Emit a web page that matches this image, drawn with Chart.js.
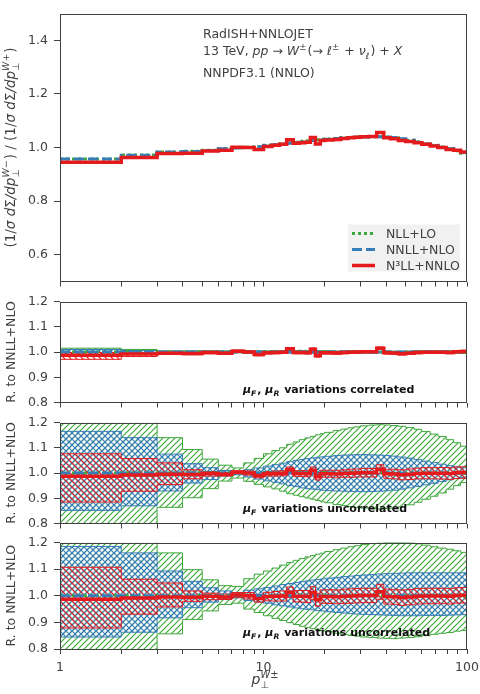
<!DOCTYPE html>
<html>
<head>
<meta charset="utf-8">
<script src="https://cdn.jsdelivr.net/npm/chart.js@4.4.0/dist/chart.umd.min.js"></script>
<style>
  body { margin: 0; background: #fff; }
  #wrap { position: relative; width: 480px; height: 694px; }
  canvas { position: absolute; left: 0; }
</style>
</head>
<body>
<div id="wrap">
  <canvas id="c1" width="480" height="295" style="top:0px"></canvas>
  <canvas id="c2" width="480" height="128" style="top:288px"></canvas>
  <canvas id="c3" width="480" height="128" style="top:409px"></canvas>
  <canvas id="c4" width="480" height="165" style="top:529px"></canvas>
</div>
<script>
// pT bin edges (GeV)
const edges = [1,2,3,4,5,6,7,8,9,10,11,12,13,14,15,16,17,18,19,20,22,24,26,28,30,33,36,39,42,46,50,55,60,66,72,79,86,93,100];

// top panel: W- / W+ normalised ratio
const nll  = [0.957,0.972,0.983,0.986,0.990,0.996,0.999,1.001,1.004,1.008, 1.011,1.014,1.018,1.020,1.023,1.025,1.027,1.029,1.031,1.032, 1.034,1.036,1.038,1.039,1.040,1.040,1.040,1.039,1.036,1.032, 1.027,1.021,1.014,1.008,1.002,0.996,0.988,0.979];
const nnll = [0.957,0.971,0.983,0.985,0.989,0.995,0.998,1.000,1.003,1.007, 1.010,1.013,1.016,1.018,1.020,1.023,1.026,1.028,1.029,1.031, 1.034,1.036,1.037,1.038,1.039,1.040,1.040,1.039,1.037,1.033, 1.027,1.020,1.013,1.007,1.001,0.995,0.989,0.981];
const n3ll = [0.945,0.963,0.978,0.979,0.987,0.990,1.001,1.000,0.993,1.004, 1.008,1.012,1.029,1.016,1.018,1.020,1.037,1.013,1.026,1.028, 1.030,1.034,1.036,1.038,1.040,1.041,1.056,1.036,1.033,1.026, 1.022,1.018,1.012,1.006,1.000,0.993,0.990,0.983];

// central values relative to NNLL+NLO
const ratioNll  = [1.000,1.001,1.000,1.001,1.001,1.001,1.001,1.001,1.001,1.001, 1.001,1.001,1.002,1.002,1.003,1.002,1.001,1.001,1.002,1.001, 1.000,1.000,1.001,1.001,1.001,1.000,1.000,1.000,0.999,0.999, 1.000,1.001,1.001,1.001,1.001,1.001,0.999,0.998];
const ratioNnll = [1,1,1,1,1,1,1,1,1,1, 1,1,1,1,1,1,1,1,1,1, 1,1,1,1,1,1,1,1,1,1, 1,1,1,1,1,1,1,1];
const ratioN3ll = [0.987,0.992,0.995,0.994,0.998,0.995,1.003,1.000,0.990,0.997, 0.998,0.999,1.013,0.998,0.998,0.997,1.011,0.985,0.997,0.997, 0.996,0.998,0.999,1.000,1.001,1.001,1.015,0.997,0.996,0.993, 0.995,0.998,0.999,0.999,0.999,0.998,1.001,1.002];

// muF, muR correlated bands
const nllCorrLo  = [0.990,0.994,0.997,0.998,0.998,0.998,0.998,0.998,0.998,0.998, 0.998,0.998,0.999,0.999,1.000,0.999,0.998,0.998,0.999,0.998, 0.997,0.997,0.998,0.998,0.998,0.997,0.997,0.997,0.996,0.996, 0.997,0.998,0.998,0.998,0.998,0.998,0.996,0.995];
const nllCorrHi  = [1.015,1.010,1.004,1.004,1.004,1.004,1.004,1.004,1.004,1.004, 1.004,1.004,1.005,1.005,1.006,1.005,1.004,1.004,1.005,1.004, 1.003,1.003,1.004,1.004,1.004,1.003,1.003,1.003,1.002,1.002, 1.003,1.004,1.004,1.004,1.004,1.004,1.002,1.001];
const nnllCorrLo = [0.988,0.994,0.997,0.997,0.997,0.997,0.997,0.997,0.997,0.997, 0.997,0.997,0.996,0.996,0.996,0.996,0.996,0.996,0.996,0.996, 0.996,0.996,0.996,0.996,0.996,0.996,0.996,0.996,0.996,0.996, 0.996,0.996,0.996,0.997,0.997,0.997,0.997,0.997];
const nnllCorrHi = [1.010,1.006,1.003,1.003,1.003,1.003,1.003,1.003,1.003,1.003, 1.003,1.003,1.003,1.003,1.003,1.003,1.003,1.003,1.003,1.003, 1.003,1.003,1.003,1.003,1.003,1.003,1.003,1.003,1.003,1.003, 1.003,1.003,1.003,1.003,1.003,1.003,1.003,1.003];
const n3llCorrLo = [0.971,0.982,0.990,0.989,0.993,0.990,0.998,0.995,0.985,0.992, 0.993,0.994,1.008,0.993,0.993,0.992,1.006,0.980,0.992,0.992, 0.991,0.993,0.994,0.995,0.996,0.996,1.010,0.992,0.991,0.988, 0.990,0.993,0.994,0.994,0.994,0.993,0.996,0.997];
const n3llCorrHi = [0.998,0.997,1.000,0.999,1.003,1.000,1.008,1.005,0.995,1.002, 1.003,1.004,1.018,1.003,1.003,1.002,1.016,0.990,1.002,1.002, 1.001,1.003,1.004,1.005,1.006,1.006,1.020,1.002,1.001,0.998, 1.000,1.003,1.004,1.004,1.004,1.003,1.006,1.007];

// muF uncorrelated bands
const nllFLo  = [0.75,0.75,0.864,0.902,0.938,0.968,0.980,0.967,0.955,0.945, 0.937,0.928,0.918,0.912,0.906,0.901,0.896,0.891,0.886,0.882, 0.875,0.871,0.867,0.864,0.861,0.858,0.858,0.859,0.861,0.866, 0.874,0.884,0.896,0.908,0.921,0.936,0.950,0.962];
const nllFHi  = [1.25,1.25,1.140,1.093,1.055,1.031,1.020,1.040,1.058,1.076, 1.089,1.100,1.114,1.123,1.132,1.139,1.145,1.151,1.156,1.161, 1.168,1.174,1.179,1.183,1.187,1.190,1.191,1.190,1.188,1.185, 1.180,1.173,1.164,1.154,1.145,1.132,1.120,1.106];
const nnllFLo = [0.852,0.870,0.929,0.960,0.974,0.988,0.993,0.984,0.976,0.969, 0.963,0.957,0.950,0.946,0.941,0.938,0.936,0.934,0.932,0.930, 0.929,0.928,0.927,0.926,0.926,0.927,0.928,0.930,0.932,0.936, 0.941,0.947,0.953,0.959,0.966,0.973,0.978,0.982];
const nnllFHi = [1.165,1.140,1.075,1.037,1.021,1.010,1.005,1.013,1.020,1.027, 1.033,1.039,1.045,1.050,1.054,1.057,1.060,1.062,1.064,1.066, 1.069,1.071,1.072,1.073,1.073,1.072,1.071,1.069,1.067,1.063, 1.059,1.053,1.047,1.041,1.035,1.029,1.024,1.020];
const n3llFLo = [0.885,0.928,0.954,0.977,0.988,0.988,0.997,0.992,0.981,0.988, 0.988,0.989,1.002,0.987,0.986,0.985,0.998,0.972,0.983,0.983, 0.981,0.983,0.983,0.984,0.984,0.984,0.997,0.979,0.977,0.973, 0.974,0.977,0.977,0.977,0.976,0.975,0.978,0.979];
const n3llFHi = [1.076,1.057,1.040,1.013,1.006,1.002,1.009,1.008,0.999,1.006, 1.008,1.009,1.024,1.009,1.010,1.009,1.024,0.998,1.011,1.011, 1.011,1.013,1.015,1.016,1.018,1.018,1.033,1.015,1.015,1.013, 1.016,1.019,1.021,1.021,1.022,1.021,1.024,1.025];

// muF, muR uncorrelated bands
const nllFRLo  = [0.75,0.75,0.857,0.911,0.943,0.967,0.972,0.950,0.937,0.925, 0.915,0.907,0.899,0.892,0.885,0.880,0.876,0.873,0.869,0.865, 0.859,0.855,0.851,0.848,0.845,0.843,0.841,0.840,0.839,0.841, 0.843,0.846,0.850,0.855,0.859,0.862,0.867,0.870];
const nllFRHi  = [1.25,1.25,1.161,1.098,1.060,1.038,1.035,1.064,1.081,1.093, 1.104,1.115,1.125,1.133,1.140,1.146,1.151,1.156,1.160,1.166, 1.173,1.179,1.184,1.188,1.192,1.196,1.198,1.200,1.200,1.200, 1.199,1.195,1.190,1.184,1.179,1.175,1.169,1.163];
const nnllFRLo = [0.845,0.863,0.917,0.955,0.976,0.988,0.992,0.982,0.977,0.972, 0.966,0.962,0.958,0.954,0.951,0.949,0.947,0.944,0.943,0.940, 0.937,0.935,0.933,0.931,0.930,0.929,0.928,0.927,0.926,0.925, 0.925,0.925,0.926,0.926,0.926,0.927,0.928,0.929];
const nnllFRHi = [1.185,1.161,1.093,1.054,1.030,1.018,1.010,1.021,1.026,1.031, 1.037,1.042,1.046,1.050,1.053,1.056,1.059,1.061,1.063,1.066, 1.069,1.072,1.074,1.076,1.078,1.080,1.082,1.083,1.084,1.085, 1.086,1.086,1.086,1.086,1.086,1.086,1.086,1.086];
const n3llFRLo = [0.879,0.931,0.958,0.979,0.985,0.986,0.994,0.988,0.976,0.981, 0.980,0.980,0.993,0.977,0.976,0.974,0.987,0.961,0.972,0.971, 0.970,0.971,0.972,0.973,0.974,0.974,0.987,0.969,0.968,0.964, 0.966,0.969,0.970,0.970,0.970,0.969,0.972,0.973];
const n3llFRHi = [1.107,1.062,1.048,1.018,1.010,1.006,1.012,1.012,1.004,1.013, 1.016,1.018,1.033,1.019,1.020,1.020,1.035,1.009,1.022,1.023, 1.022,1.025,1.026,1.027,1.028,1.028,1.043,1.025,1.024,1.022, 1.024,1.027,1.028,1.028,1.028,1.027,1.030,1.031];

// axes
const xTicks = [1,2,3,4,5,6,7,8,9,10,20,30,40,50,60,70,80,90,100];
const xTickLabels = [1, 10, 100];
const yTicksTop = [0.6, 0.8, 1.0, 1.2, 1.4];
const yTicksRatio = [0.8, 0.9, 1.0, 1.1, 1.2];

const FONT = '"DejaVu Sans", sans-serif';
const INK = '#404040';
const GREEN = '#3fa83c', BLUE = '#377eb8', RED = '#e41a1c';

Chart.defaults.font.family = FONT;
Chart.defaults.font.size = 12.5;
Chart.defaults.color = INK;

// histogram points for a stepped line (value holds from its left edge)
function hist(vals) {
  const pts = vals.map((v, i) => ({ x: edges[i], y: v }));
  pts.push({ x: edges[edges.length - 1], y: vals[vals.length - 1] });
  return pts;
}

function hatch(color, kind) {
  const n = 6, c = document.createElement('canvas');
  c.width = c.height = n;
  const g = c.getContext('2d');
  g.strokeStyle = color;
  g.lineWidth = 1.2;
  const seg = (x1, y1, x2, y2) => { g.beginPath(); g.moveTo(x1, y1); g.lineTo(x2, y2); g.stroke(); };
  if (kind.includes('/')) { seg(-1, n + 1, n + 1, -1); seg(-1, 1, 1, -1); seg(n - 1, n + 1, n + 1, n - 1); }
  if (kind.includes('\\')) { seg(-1, -1, n + 1, n + 1); seg(-1, n - 1, 1, n + 1); seg(n - 1, -1, n + 1, 1); }
  return g.createPattern(c, 'repeat');
}

const greenHatch = hatch(GREEN, '/');
const blueHatch = hatch(BLUE, '/\\');
const redHatch = hatch(RED, '\\');

function line(label, vals, color, dash, width, order) {
  return { label, data: hist(vals), borderColor: color, borderWidth: width, borderDash: dash,
           stepped: 'before', pointRadius: 0, fill: false, order };
}
function band(lo, hi, color, pattern, order, loIndex) {
  return [
    { data: hist(lo), borderColor: color, borderWidth: 1, stepped: 'before', pointRadius: 0, fill: false, order },
    { data: hist(hi), borderColor: color, borderWidth: 1, stepped: 'before', pointRadius: 0,
      fill: loIndex, backgroundColor: pattern, order }
  ];
}

function centralLines() {
  return [
    line('N³LL+NNLO', ratioN3ll, RED, [], 3.5, 0),
    line('NNLL+NLO', ratioNnll, BLUE, [10, 4], 3, 1),
    line('NLL+LO', ratioNll, GREEN, [3, 3], 3, 2)
  ];
}
function bandPanel(gl, gh, bl, bh, rl, rh) {
  return centralLines().concat(
    band(rl, rh, RED, redHatch, 3, 3),
    band(bl, bh, BLUE, blueHatch, 4, 5),
    band(gl, gh, GREEN, greenHatch, 5, 7)
  );
}

// rich text: parts {t, i} or {sub, sup, i}
function drawRich(ctx, parts, x, y, size, opt) {
  const bold = opt.bold ? 'bold ' : '';
  const fnt = (p, s) => (p.i ? 'italic ' : '') + bold + s + 'px ' + FONT;
  const small = size * 0.7;
  const widths = parts.map(p => {
    if (p.t !== undefined) { ctx.font = fnt(p, size); return ctx.measureText(p.t).width; }
    ctx.font = fnt(p, small);
    return Math.max(p.sub ? ctx.measureText(p.sub).width : 0, p.sup ? ctx.measureText(p.sup).width : 0) + 1;
  });
  const total = widths.reduce((a, b) => a + b, 0);
  let cx = opt.center ? x - total / 2 : x;
  ctx.textAlign = 'left';
  ctx.textBaseline = 'alphabetic';
  ctx.fillStyle = opt.color || INK;
  parts.forEach((p, k) => {
    if (p.t !== undefined) {
      ctx.font = fnt(p, size);
      ctx.fillText(p.t, cx, y);
    } else {
      ctx.font = fnt(p, small);
      if (p.sup) ctx.fillText(p.sup, cx, y - size * 0.42);
      if (p.sub) ctx.fillText(p.sub, cx, y + size * 0.28);
    }
    cx += widths[k];
  });
}

function yTitle(chart, parts, size) {
  const { ctx, chartArea: a } = chart;
  ctx.save();
  ctx.translate(11, (a.top + a.bottom) / 2);
  ctx.rotate(-Math.PI / 2);
  drawRich(ctx, parts, 0, 4, size, { center: true });
  ctx.restore();
}

const ratioTitle = [{ t: 'R. to NNLL+NLO' }];

const frame = {
  id: 'frame',
  afterDatasetsDraw(chart) {
    const { ctx, chartArea: a } = chart;
    ctx.save();
    ctx.strokeStyle = INK;
    ctx.lineWidth = 1;
    ctx.strokeRect(Math.round(a.left) + 0.5, Math.round(a.top) + 0.5,
                   Math.round(a.right - a.left) - 1, Math.round(a.bottom - a.top) - 1);
    ctx.restore();
  }
};

function makePanel(id, datasets, yMin, yMax, yTicks, topPad, xHeight, showX, deco) {
  return new Chart(document.getElementById(id), {
    type: 'line',
    data: { datasets },
    options: {
      responsive: false,
      animation: false,
      events: [],
      layout: { padding: { left: 0, right: 13, top: topPad, bottom: 0 } },
      plugins: { legend: { display: false }, tooltip: { enabled: false } },
      scales: {
        x: {
          type: 'logarithmic', min: 1, max: 100,
          afterBuildTicks: s => { s.ticks = xTicks.map(v => ({ value: v })); },
          afterFit: s => { s.height = xHeight; s.paddingLeft = 0; s.paddingRight = 0; },
          ticks: { display: showX, autoSkip: false, maxRotation: 0, padding: 6,
                   callback: v => xTickLabels.includes(v) ? String(v) : '' },
          grid: { drawOnChartArea: false, tickLength: 5, color: INK },
          border: { display: false }
        },
        y: {
          min: yMin, max: yMax,
          afterBuildTicks: s => { s.ticks = yTicks.map(v => ({ value: v })); },
          afterFit: s => { s.width = 60; },
          ticks: { padding: 6, callback: v => v.toFixed(1) },
          grid: { drawOnChartArea: false, tickLength: 6, color: INK },
          border: { display: false }
        }
      }
    },
    plugins: [frame, { id: 'deco', afterDraw: deco }]
  });
}

// panel 1
makePanel('c1', [
  line('N³LL+NNLO', n3ll, RED, [], 3.5, 0),
  line('NNLL+NLO', nnll, BLUE, [10, 4], 3, 1),
  line('NLL+LO', nll, GREEN, [3, 3], 3, 2)
], 0.5, 1.5, yTicksTop, 8, 8, false, chart => {
  const { ctx, chartArea: a } = chart;
  ctx.save();
  const tx = 203;
  drawRich(ctx, [{ t: 'RadISH+NNLOJET' }], tx, 37.5, 12.5, {});
  drawRich(ctx, [{ t: '13 TeV, ' }, { t: 'pp', i: 1 }, { t: ' → ' }, { t: 'W', i: 1 }, { sup: '±' },
    { t: '(→ ' }, { t: 'ℓ', i: 1 }, { sup: '±' }, { t: ' + ' }, { t: 'ν', i: 1 }, { sub: 'ℓ', i: 1 },
    { t: ') + ' }, { t: 'X', i: 1 }], tx, 55, 12.5, {});
  drawRich(ctx, [{ t: 'NNPDF3.1 (NNLO)' }], tx, 77, 12.5, {});

  // legend
  const items = chart.data.datasets.filter(d => d.label).sort((p, q) => q.order - p.order);
  const w = 112, h = 47, x0 = a.right - 7 - w, y0 = a.bottom - 10 - h;
  ctx.fillStyle = 'rgba(240,240,240,0.9)';
  ctx.fillRect(x0, y0, w, h);
  items.forEach((d, k) => {
    const y = y0 + 9 + k * 16;
    ctx.strokeStyle = d.borderColor;
    ctx.lineWidth = d.borderWidth;
    ctx.setLineDash(d.borderDash);
    ctx.beginPath(); ctx.moveTo(x0 + 4, y); ctx.lineTo(x0 + 27, y); ctx.stroke();
    ctx.setLineDash([]);
    drawRich(ctx, [{ t: d.label }], x0 + 38, y + 4.5, 12.5, {});
  });

  yTitle(chart, [{ t: '(1/' }, { t: 'σ d', i: 1 }, { t: 'Σ' }, { t: '/dp', i: 1 }, { sub: '⊥', sup: 'W−', i: 1 },
    { t: ') / (1/' }, { t: 'σ d', i: 1 }, { t: 'Σ' }, { t: '/dp', i: 1 }, { sub: '⊥', sup: 'W+', i: 1 }, { t: ')' }], 13.5);
  ctx.restore();
});

function note(chart, parts, dy) {
  drawRich(chart.ctx, parts, chart.chartArea.left + 183, chart.chartArea.bottom - dy, 11, { bold: true, color: '#111' });
}
const muF = [{ t: 'μ', i: 1 }, { sub: 'F', i: 1 }];
const muR = [{ t: 'μ', i: 1 }, { sub: 'R', i: 1 }];

// panel 2
makePanel('c2', bandPanel(nllCorrLo, nllCorrHi, nnllCorrLo, nnllCorrHi, n3llCorrLo, n3llCorrHi),
  0.8, 1.2, yTicksRatio, 8, 8, false, chart => {
    note(chart, muF.concat([{ t: ', ' }], muR, [{ t: ' variations correlated' }]), 10);
    yTitle(chart, ratioTitle, 12.5);
  });

// panel 3
makePanel('c3', bandPanel(nllFLo, nllFHi, nnllFLo, nnllFHi, n3llFLo, n3llFHi),
  0.8, 1.2, yTicksRatio, 8, 8, false, chart => {
    note(chart, muF.concat([{ t: ' variations uncorrelated' }]), 12);
    yTitle(chart, ratioTitle, 12.5);
  });

// panel 4 (x-axis title sits 35px below the plot frame)
makePanel('c4', bandPanel(nllFRLo, nllFRHi, nnllFRLo, nnllFRHi, n3llFRLo, n3llFRHi),
  0.8, 1.2, yTicksRatio, 9, 45, true, chart => {
    const a = chart.chartArea;
    note(chart, muF.concat([{ t: ', ' }], muR, [{ t: ' variations uncorrelated' }]), 13);
    yTitle(chart, ratioTitle, 12.5);
    drawRich(chart.ctx, [{ t: 'p', i: 1 }, { sub: '⊥', sup: 'W±', i: 1 }], (a.left + a.right) / 2 + 2, a.bottom + 35, 14, { center: true });
  });
</script>
</body>
</html>
